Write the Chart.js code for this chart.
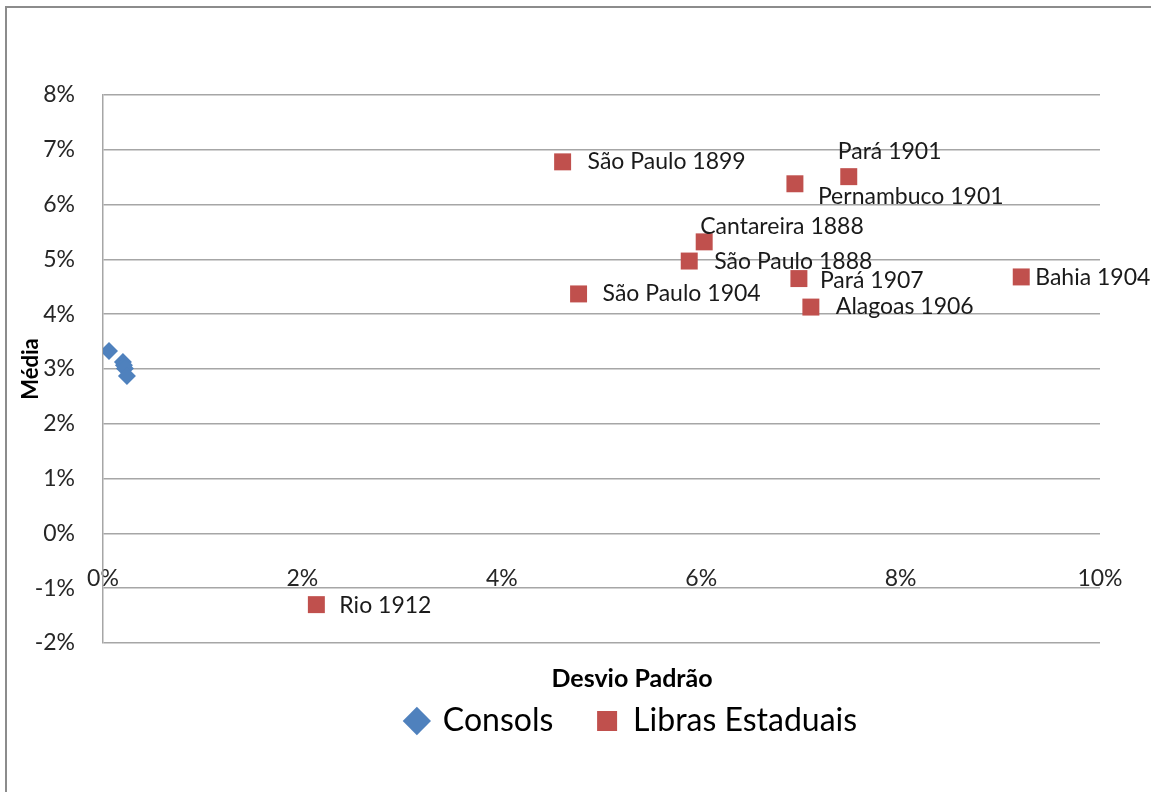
<!DOCTYPE html>
<html lang="pt-BR">
<head>
    <meta charset="UTF-8">
    <title>Média x Desvio Padrão</title>
    <script src="https://cdn.jsdelivr.net/npm/chart.js"></script>
    <style>
        html, body { margin: 0; padding: 0; background: #fff; overflow: hidden; width: 1151px; height: 792px; }
        /* moldura cinza do gráfico (passa da borda da janela) */
        .frame { position: absolute; left: 5px; top: 6px; width: 1400px; height: 900px; border: 2px solid #8c8c8c; }
        .box { position: absolute; left: 8px; top: 9px; width: 1238px; height: 783px; }
    </style>
</head>
<body>
    <div class="frame"></div>
    <div class="box"><canvas id="chart"></canvas></div>

    <script>
        // Consols (desvio padrão %, média %)
        const consolsX = [0.06, 0.20, 0.21, 0.22, 0.24];
        const consolsY = [3.33, 3.13, 3.07, 3.01, 2.87];

        // Libras Estaduais
        const librasNomes = ["São Paulo 1899", "Pará 1901", "Pernambuco 1901", "Cantareira 1888", "São Paulo 1888",
                             "Pará 1907", "Bahia 1904", "São Paulo 1904", "Alagoas 1906", "Rio 1912"];
        const librasX = [4.61, 7.48, 6.94, 6.03, 5.88, 6.98, 9.21, 4.77, 7.10, 2.14];
        const librasY = [6.78, 6.51, 6.38, 5.32, 4.97, 4.65, 4.68, 4.37, 4.13, -1.30];

        // deslocamento dos rótulos (estilo, não dado)
        const labelOffsets = [[25, 0], [-11, -25], [23, 13], [-4, -15], [25, 1], [21, 2], [14, 1], [24, 0], [25, 0], [23, 1]];

        const xTicks = [0, 2, 4, 6, 8, 10];
        const yTicks = [-2, -1, 0, 1, 2, 3, 4, 5, 6, 7, 8];

        const FONT = "Lato, 'Open Sans', sans-serif";
        const BLUE = "#4f81bd";
        const RED = "#c0504d";

        // rótulos dos pontos
        const pointLabels = {
            id: "pointLabels",
            afterDatasetsDraw(chart) {
                const ctx = chart.ctx;
                const meta = chart.getDatasetMeta(1);
                ctx.save();
                ctx.font = "23px " + FONT;
                ctx.fillStyle = "#1a1a1a";
                ctx.textAlign = "left";
                ctx.textBaseline = "middle";
                meta.data.forEach((pt, i) => {
                    const off = labelOffsets[i];
                    ctx.fillText(librasNomes[i], pt.x + off[0], pt.y + off[1]);
                });
                ctx.restore();
            }
        };

        new Chart(document.getElementById("chart"), {
            type: "scatter",
            data: {
                datasets: [
                    {
                        label: "Consols",
                        data: consolsX.map((x, i) => ({ x: x, y: consolsY[i] })),
                        pointStyle: "rectRot",
                        pointRadius: 9,
                        pointHoverRadius: 9,
                        backgroundColor: BLUE,
                        borderColor: BLUE,
                        borderWidth: 0
                    },
                    {
                        label: "Libras Estaduais",
                        data: librasX.map((x, i) => ({ x: x, y: librasY[i] })),
                        pointStyle: "rect",
                        pointRadius: 12,
                        pointHoverRadius: 12,
                        backgroundColor: RED,
                        borderColor: RED,
                        borderWidth: 0
                    }
                ]
            },
            options: {
                responsive: true,
                maintainAspectRatio: false,
                animation: false,
                layout: { padding: { top: 86, right: 0, left: 10, bottom: 45 } },
                scales: {
                    x: {
                        type: "linear",
                        position: { y: 0 },
                        min: 0, max: 10,
                        afterBuildTicks: (s) => { s.ticks = xTicks.map(v => ({ value: v })); },
                        grid: { display: false, drawTicks: false },
                        border: { display: false },
                        ticks: {
                            padding: 31,
                            color: "#262626",
                            font: { family: FONT, size: 23 },
                            callback: (v) => v + "%"
                        }
                    },
                    y: {
                        type: "linear",
                        min: -2, max: 8,
                        afterBuildTicks: (s) => { s.ticks = yTicks.map(v => ({ value: v })); },
                        afterFit: (s) => { s.width = 85; },
                        grid: { color: "#a6a6a6", lineWidth: 1.5, drawTicks: false },
                        border: { color: "#a6a6a6", width: 1.5 },
                        ticks: {
                            padding: 28,
                            color: "#262626",
                            font: { family: FONT, size: 23 },
                            callback: (v) => v + "%"
                        },
                        title: {
                            display: true,
                            text: "Média",
                            color: "#000",
                            font: { family: FONT, size: 22, weight: "bold" },
                            padding: { top: 0, bottom: 0 }
                        }
                    },
                    // eixo vazio à direita: só reserva o espaço depois de 10%
                    yRight: {
                        type: "linear",
                        position: "right",
                        min: -2, max: 8,
                        afterFit: (s) => { s.width = 146; },
                        grid: { display: false },
                        border: { display: false },
                        ticks: { display: false }
                    }
                },
                plugins: {
                    title: {
                        display: true,
                        position: "bottom",
                        weight: 100,
                        text: "Desvio Padrão",
                        color: "#000",
                        font: { family: FONT, size: 25, weight: "bold" },
                        padding: { top: 21, bottom: 0 }
                    },
                    legend: {
                        position: "bottom",
                        labels: {
                            usePointStyle: true,
                            boxWidth: 20,
                            boxHeight: 20,
                            padding: 11,
                            color: "#000",
                            font: { family: FONT, size: 32 },
                            // espaço extra entre os dois itens, como no original
                            generateLabels: (chart) => {
                                const items = Chart.defaults.plugins.legend.labels.generateLabels(chart);
                                items[0].text = items[0].text + "    ";
                                return items;
                            }
                        }
                    },
                    tooltip: { enabled: false }
                }
            },
            plugins: [pointLabels]
        });
    </script>
</body>
</html>
